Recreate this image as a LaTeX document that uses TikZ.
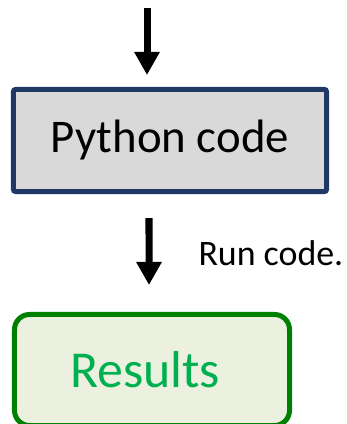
\documentclass[tikz,border=0pt]{standalone}
\usepackage{fontspec}
\setmainfont{Carlito}
\usetikzlibrary{arrows.meta}

\definecolor{navyline}{RGB}{31,56,100}
\definecolor{greyfill}{RGB}{217,217,217}
\definecolor{greenline}{RGB}{0,128,0}
\definecolor{greenfill}{RGB}{235,241,222}
\definecolor{greentext}{RGB}{0,176,80}

\begin{document}
\begin{tikzpicture}[x=1bp, y=1bp,
  flow/.style={line width=7bp, -{Triangle[width=24bp, length=23bp]}},
  codebox/.style={draw=navyline, fill=greyfill, line width=5bp, rounded corners=2bp,
    minimum width=313bp, minimum height=102bp, font=\fontsize{47}{54}\selectfont},
  resbox/.style={draw=greenline, fill=greenfill, line width=5bp, rounded corners=15bp,
    minimum width=275bp, minimum height=111bp, text=greentext, font=\fontsize{52}{60}\selectfont}]
\useasboundingbox (0,0) rectangle (347,424);

\node[codebox] (code) at (170,283.5) {Python code};
\node[resbox] (res) at (152,54) {Results\kern14bp};

\coordinate (in) at (147,416);
\draw[flow, shorten >=12bp] (in) -- (in |- code.north);

\draw[flow, shorten <=24bp, shorten >=27bp] ([xshift=-21bp]code.south) -- ([xshift=-3bp]res.north)
  node[pos=0.5, right=46bp, inner sep=0pt, font=\fontsize{36}{42}\selectfont] (run) {Run code.};
\end{tikzpicture}
\end{document}
